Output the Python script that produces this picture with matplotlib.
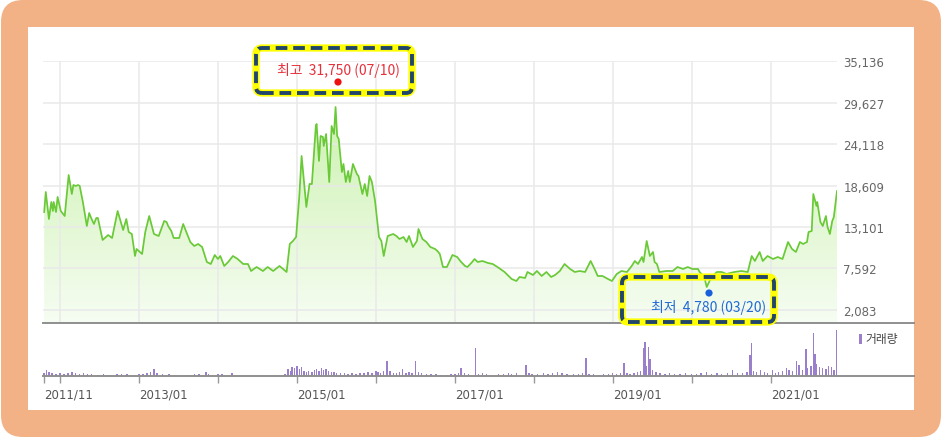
import matplotlib
matplotlib.use('Agg')
import matplotlib.pyplot as plt
import numpy as np
from matplotlib.patches import FancyBboxPatch, Rectangle, Circle
from matplotlib.lines import Line2D
from matplotlib.colors import LinearSegmentedColormap
from matplotlib.transforms import IdentityTransform

# ---------------- data ----------------
price_dates = [
    2011.80, 2011.82, 2011.86, 2011.89, 2011.91, 2011.92, 2011.95, 2011.97, 2012.01, 2012.06,
    2012.11, 2012.15, 2012.17, 2012.20, 2012.23, 2012.25, 2012.29, 2012.34, 2012.37, 2012.40,
    2012.43, 2012.46, 2012.48, 2012.54, 2012.61, 2012.66, 2012.73, 2012.80, 2012.84, 2012.87,
    2012.91, 2012.95, 2012.97, 2013.04, 2013.08, 2013.13, 2013.19, 2013.25, 2013.32, 2013.35,
    2013.37, 2013.41, 2013.44, 2013.51, 2013.56, 2013.65, 2013.70, 2013.75, 2013.80, 2013.86,
    2013.91, 2013.96, 2014.00, 2014.03, 2014.08, 2014.13, 2014.19, 2014.25, 2014.32, 2014.38,
    2014.42, 2014.49, 2014.57, 2014.63, 2014.70, 2014.78, 2014.87, 2014.91, 2014.95, 2014.99,
    2015.03, 2015.06, 2015.09, 2015.12, 2015.16, 2015.19, 2015.24, 2015.25, 2015.28, 2015.30,
    2015.33, 2015.34, 2015.37, 2015.41, 2015.44, 2015.47, 2015.49, 2015.51, 2015.53, 2015.57,
    2015.59, 2015.62, 2015.65, 2015.67, 2015.71, 2015.76, 2015.78, 2015.83, 2015.86, 2015.89,
    2015.92, 2015.95, 2015.99, 2016.04, 2016.07, 2016.10, 2016.15, 2016.22, 2016.26, 2016.30,
    2016.35, 2016.39, 2016.42, 2016.47, 2016.52, 2016.54, 2016.59, 2016.64, 2016.69, 2016.75,
    2016.78, 2016.81, 2016.85, 2016.90, 2016.97, 2017.03, 2017.08, 2017.13, 2017.16, 2017.22,
    2017.25, 2017.29, 2017.35, 2017.42, 2017.48, 2017.54, 2017.63, 2017.72, 2017.78, 2017.82,
    2017.89, 2017.92, 2017.99, 2018.04, 2018.10, 2018.16, 2018.22, 2018.27, 2018.33, 2018.39,
    2018.46, 2018.52, 2018.58, 2018.65, 2018.72, 2018.77, 2018.81, 2018.87, 2018.94, 2018.99,
    2019.05, 2019.11, 2019.18, 2019.24, 2019.28, 2019.32, 2019.37, 2019.39, 2019.43, 2019.47,
    2019.51, 2019.53, 2019.56, 2019.59, 2019.68, 2019.76, 2019.82, 2019.89, 2019.95, 2020.01,
    2020.08, 2020.10, 2020.16, 2020.19, 2020.25, 2020.32, 2020.38, 2020.44, 2020.54, 2020.63,
    2020.71, 2020.76, 2020.80, 2020.86, 2020.90, 2020.96, 2021.03, 2021.09, 2021.15, 2021.22,
    2021.27, 2021.32, 2021.37, 2021.41, 2021.46, 2021.48, 2021.52, 2021.54, 2021.58, 2021.59,
    2021.63, 2021.66, 2021.70, 2021.72, 2021.75, 2021.78, 2021.80, 2021.84,
]
price_values = [
    15093, 17748, 14163, 16420, 15225, 16420, 15093, 17084, 15225, 14562,
    20004, 17482, 18677, 18544, 18677, 18544, 16420, 13234, 14960, 14163,
    13500, 14296, 14296, 11376, 12039, 11641, 15225, 12703, 14163, 12438,
    12172, 9252, 10181, 9517, 12438, 14562, 12172, 11907, 13898, 13765,
    13234, 12570, 11641, 11641, 13500, 11110, 10579, 10845, 10446, 8455,
    8190, 9384, 8853, 9252, 7924, 8455, 9252, 8853, 8190, 8190,
    7260, 7791, 7260, 7791, 7260, 7924, 7128, 10845, 11243, 11774,
    17084, 22527, 19208, 15756, 18810, 18810, 26509, 26775, 21863, 25182,
    25049, 23854, 25447, 19075, 26509, 25447, 29031, 25182, 24783, 20403,
    21465, 19075, 20535, 19075, 21465, 20137, 19872, 17482, 18810, 17217,
    19872, 19075, 16553, 11774, 11243, 9252, 11907, 12172, 11907, 11508,
    11774, 11110, 11907, 10446, 11243, 12836, 11508, 11110, 10446, 10181,
    9915, 9517, 7791, 7791, 9384, 9119, 8455, 7924, 7791, 8455,
    8853, 8455, 8588, 8322, 8190, 7791, 7128, 6198, 5933, 6464,
    6331, 7128, 6729, 7260, 6597, 7128, 6464, 6729, 7260, 8190,
    7526, 7128, 7260, 7128, 8588, 7526, 6597, 6597, 6198, 5933,
    6862, 7260, 7128, 7924, 8588, 8190, 9119, 8455, 11243, 9252,
    9783, 8455, 8190, 7128, 7260, 7260, 7791, 7526, 7791, 7526,
    7526, 7128, 6464, 5136, 6464, 7128, 7128, 6862, 7128, 7260,
    7128, 9252, 8588, 9783, 8588, 9252, 8853, 9119, 8853, 11110,
    10181, 9783, 11110, 10845, 11110, 12438, 12570, 17482, 15889, 16420,
    13765, 13234, 14562, 13101, 12172, 13898, 14429, 17880,
]

vol_dates = [
    2011.80, 2011.83, 2011.86, 2011.90, 2011.95, 2012.00, 2012.05, 2012.10, 2012.15, 2012.20,
    2012.25, 2012.30, 2012.35, 2012.40, 2012.48, 2012.55, 2012.62, 2012.72, 2012.78, 2012.85,
    2012.92, 2013.00, 2013.05, 2013.10, 2013.15, 2013.19, 2013.23, 2013.30, 2013.38, 2013.45,
    2013.62, 2013.70, 2013.76, 2013.85, 2013.88, 2014.00, 2014.05, 2014.18, 2014.60, 2014.85,
    2014.89, 2014.92, 2014.94, 2014.97, 2015.00, 2015.03, 2015.06, 2015.09, 2015.12, 2015.15,
    2015.19, 2015.22, 2015.25, 2015.28, 2015.31, 2015.34, 2015.37, 2015.40, 2015.44, 2015.47,
    2015.50, 2015.55, 2015.60, 2015.65, 2015.70, 2015.75, 2015.80, 2015.85, 2015.90, 2015.95,
    2016.00, 2016.03, 2016.06, 2016.10, 2016.14, 2016.18, 2016.22, 2016.26, 2016.30, 2016.34,
    2016.38, 2016.42, 2016.46, 2016.50, 2016.54, 2016.58, 2016.64, 2016.70, 2016.76, 2016.82,
    2016.90, 2016.95, 2017.00, 2017.05, 2017.08, 2017.12, 2017.17, 2017.26, 2017.30, 2017.35,
    2017.40, 2017.48, 2017.55, 2017.62, 2017.68, 2017.72, 2017.78, 2017.90, 2017.94, 2017.98,
    2018.05, 2018.12, 2018.18, 2018.24, 2018.30, 2018.36, 2018.42, 2018.50, 2018.57, 2018.62,
    2018.66, 2018.70, 2018.76, 2018.82, 2018.88, 2018.95, 2019.00, 2019.05, 2019.10, 2019.14,
    2019.18, 2019.22, 2019.27, 2019.31, 2019.35, 2019.39, 2019.41, 2019.43, 2019.45, 2019.47,
    2019.50, 2019.55, 2019.60, 2019.66, 2019.72, 2019.78, 2019.85, 2019.92, 2020.00, 2020.06,
    2020.12, 2020.19, 2020.25, 2020.32, 2020.38, 2020.45, 2020.52, 2020.58, 2020.64, 2020.70,
    2020.74, 2020.76, 2020.78, 2020.82, 2020.87, 2020.92, 2020.96, 2021.02, 2021.06, 2021.10,
    2021.15, 2021.20, 2021.23, 2021.28, 2021.33, 2021.36, 2021.40, 2021.45, 2021.47, 2021.51,
    2021.54, 2021.56, 2021.58, 2021.62, 2021.66, 2021.70, 2021.73, 2021.77, 2021.80, 2021.835,
]
vol_values = [
    3, 6, 4, 3, 2, 3, 2, 3, 4, 3,
    2, 3, 2, 2, 1, 2, 1, 2, 2, 2,
    1, 2, 2, 3, 4, 7, 3, 2, 2, 1,
    1, 2, 2, 4, 2, 2, 2, 3, 1, 2,
    7, 5, 9, 8, 10, 7, 9, 5, 4, 5,
    4, 6, 7, 5, 8, 6, 7, 5, 4, 4,
    3, 3, 3, 2, 3, 2, 3, 3, 4, 3,
    5, 4, 3, 5, 15, 5, 3, 3, 4, 7,
    3, 4, 3, 15, 4, 3, 2, 2, 2, 1,
    1, 2, 2, 3, 8, 3, 2, 27, 2, 3,
    2, 1, 2, 2, 3, 2, 3, 11, 3, 2,
    2, 3, 2, 3, 4, 3, 2, 2, 2, 3,
    18, 2, 2, 1, 2, 2, 3, 2, 3, 13,
    3, 2, 3, 4, 5, 27, 33, 10, 28, 17,
    6, 4, 3, 2, 3, 2, 2, 3, 2, 2,
    3, 4, 2, 3, 2, 3, 6, 3, 3, 4,
    21, 32, 5, 4, 6, 4, 3, 6, 3, 4,
    5, 8, 6, 5, 15, 11, 6, 26, 8, 10,
    42, 22, 12, 9, 8, 7, 10, 9, 6, 45,
]

y_ticks = [2083, 7592, 13101, 18609, 24118, 29627, 35136]
grid_years = [2012, 2013, 2014, 2015, 2016, 2017, 2018, 2019, 2020, 2021]
x_tick_pos = [2011.80, 2012, 2013, 2014, 2015, 2016, 2017, 2018, 2019, 2020, 2021]
x_tick_labels = ['2011/11', '', '2013/01', '', '2015/01', '', '2017/01', '', '2019/01', '', '2021/01']

high_label = '최고  31,750 (07/10)'
low_label = '최저  4,780 (03/20)'
vol_label = '거래량'

# ---------------- figure ----------------
W, H = 942, 439
fig = plt.figure(figsize=(W / 100, H / 100), dpi=100)
fig.patch.set_facecolor('white')
ID = IdentityTransform()
KR = ['Noto Sans CJK KR', 'DejaVu Sans']

def P(x, y):
    return (x, H - y)

# orange frame
fig.patches.append(FancyBboxPatch(P(1, 438), 940, 437,
                                  boxstyle='round,pad=0,rounding_size=22',
                                  transform=ID, facecolor='#F3B285', edgecolor='none', zorder=-2))
# white panel
fig.patches.append(Rectangle(P(28, 411), 886, 383, transform=ID,
                             facecolor='white', edgecolor='none', zorder=-1))

XMIN, XMAX = 2011.785, 2021.84
YMIN, YMAX = 357, 35136

ax = fig.add_axes([43 / W, (H - 324) / H, 794 / W, 262 / H])
ax.set_zorder(1)
ax.set_facecolor('none')
for s in ax.spines.values():
    s.set_visible(False)

# gradient fill under line
x = np.array(price_dates)
y = np.array(price_values)
poly = ax.fill_between(x, y, YMIN, color='none', lw=0)
grad = np.linspace(0, 1, 256).reshape(-1, 1)
cmap = LinearSegmentedColormap.from_list('g', ['#f6fdf2', '#c4efa3'])
im = ax.imshow(grad, extent=[XMIN, XMAX, YMIN, YMAX], origin='lower',
               aspect='auto', cmap=cmap, zorder=1)
im.set_clip_path(poly.get_paths()[0], transform=ax.transData)

# grid
for yt in y_ticks:
    ax.axhline(yt, color='#e9e9e9', lw=1.1, zorder=1.5)
for gx in grid_years:
    ax.axvline(gx, color='#e9e9e9', lw=1.1, zorder=1.5)

ax.plot(x, y, color='#69c937', lw=1.25, zorder=3)

ax.set_xlim(XMIN, XMAX)
ax.set_ylim(YMIN, YMAX)
ax.set_xticks([])
ax.yaxis.tick_right()
ax.set_yticks(y_ticks)
ax.set_yticklabels([f'{v:,}' for v in y_ticks])
ax.tick_params(axis='y', length=0, pad=4.5, labelsize=8.5, labelcolor='#666666')

# volume axes
vax = fig.add_axes([43 / W, (H - 377) / H, 794 / W, 46 / H])
vax.set_zorder(1)
vax.set_facecolor('none')
for s in vax.spines.values():
    s.set_visible(False)
vax.bar(vol_dates, vol_values, width=0.018, color='#9a80cc', edgecolor='none', align='center')
vax.set_xlim(XMIN, XMAX)
vax.set_ylim(0, 45)
vax.set_yticks([])
vax.set_xticks(x_tick_pos)
vax.set_xticklabels(x_tick_labels)
vax.tick_params(axis='x', length=5, width=1, color='#999999', direction='out',
                pad=3, labelsize=8.5, labelcolor='#555555')
for lab in vax.get_xticklabels():
    lab.set_horizontalalignment('left')

# baselines
fig.lines.append(Line2D([43, 914], [H - 324, H - 324], transform=ID, color='#8f8f8f', lw=1.4, zorder=2))
fig.lines.append(Line2D([43, 914], [H - 377, H - 377], transform=ID, color='#8f8f8f', lw=1.4, zorder=2))

# legend
fig.patches.append(Rectangle(P(859, 345), 3, 10, transform=ID, facecolor='#9a80cc', edgecolor='none', zorder=2))
fig.text(865 / W, 1 - 340 / H, vol_label, family=KR, fontsize=8.5, color='#444444',
         ha='left', va='center')

# annotation boxes
def ann_box(x0, y0, x1, y1):
    for lw, col, ls in [(5.2, '#FFFF00', '-'), (2.8, '#22466b', (0, (3.0, 1.5)))]:
        fig.patches.append(FancyBboxPatch(P(x0, y1), x1 - x0, y1 - y0,
                                          boxstyle='round,pad=0,rounding_size=6',
                                          transform=ID, facecolor='none', edgecolor=col,
                                          lw=lw, linestyle=ls, zorder=5, capstyle='butt'))

ann_box(256, 49, 412, 94)
fig.text(338 / W, 1 - 71 / H, high_label, family=KR, fontsize=10, color='#e8303a',
         ha='center', va='center', zorder=6)
fig.patches.append(Circle(P(338, 83), 3.6, transform=ID, facecolor='#ee1111', edgecolor='none', zorder=6))

ann_box(622, 278, 774, 323)
fig.text(709 / W, 1 - 308 / H, low_label, family=KR, fontsize=10, color='#1f6ad6',
         ha='center', va='center', zorder=6)
fig.patches.append(Circle(P(709, 294), 3.6, transform=ID, facecolor='#1a60dd', edgecolor='none', zorder=6))

fig.savefig('out.png', dpi=100, facecolor=fig.get_facecolor())
